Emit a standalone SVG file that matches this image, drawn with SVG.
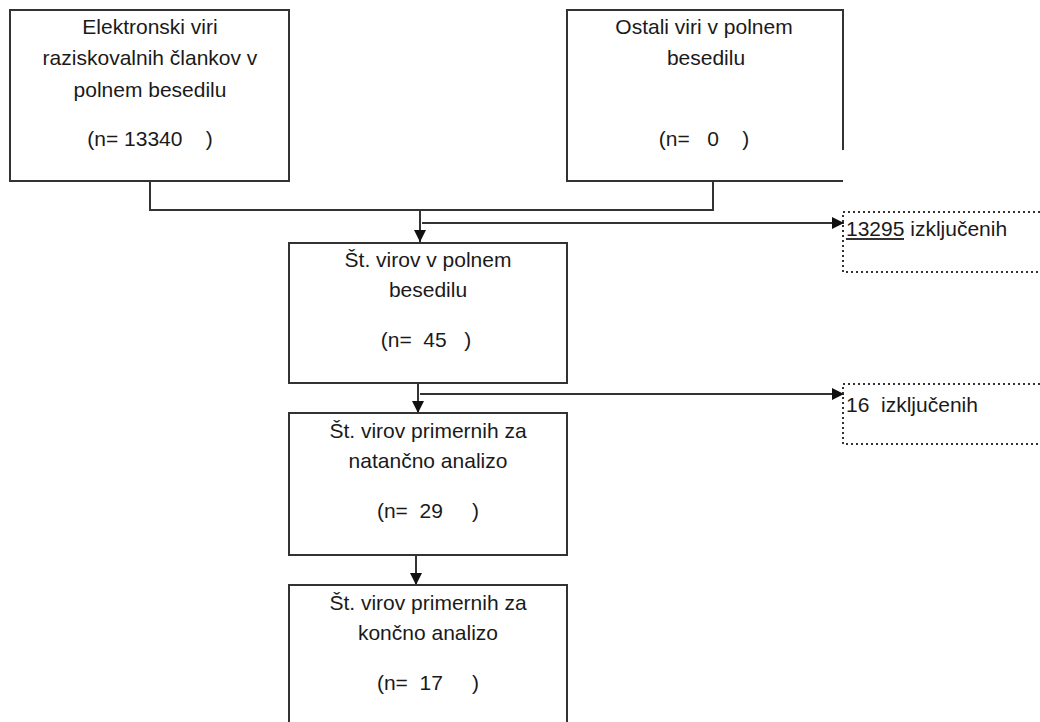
<svg xmlns="http://www.w3.org/2000/svg" width="1040" height="722" viewBox="0 0 1040 722">
  <defs>
    <marker id="arrow" viewBox="0 0 12 12" refX="12" refY="6" markerWidth="12" markerHeight="12" markerUnits="userSpaceOnUse" orient="auto">
      <path d="M0,0 L12,6 L0,12 Z" fill="#111"/>
    </marker>
    <style>
      .box { fill: #fff; stroke: #333; stroke-width: 2; }
      .dot { fill: none; stroke: #333; stroke-width: 2; stroke-dasharray: 2 3; }
      .line { fill: none; stroke: #333; stroke-width: 2; }
      .arr { fill: none; stroke: #333; stroke-width: 2; marker-end: url(#arrow); }
      text { font-family: "Liberation Sans", Arial, sans-serif; font-size: 21px; fill: #1a1a1a; white-space: pre; }
      .c { text-anchor: middle; }
    </style>
  </defs>
  <rect width="1040" height="722" fill="#fff"/>

  <g id="connectors">
    <polyline class="line" points="150,181 150,210 713,210 713,182"/>
    <line class="arr" x1="420" y1="210" x2="420" y2="242"/>
    <line class="arr" x1="422" y1="223" x2="844" y2="223"/>
    <line class="arr" x1="418" y1="383" x2="418" y2="413"/>
    <line class="arr" x1="420" y1="394" x2="844" y2="394"/>
    <line class="arr" x1="416" y1="555" x2="416" y2="585"/>
  </g>

  <g id="n-elektronski">
    <rect class="box" x="10" y="10" width="279" height="171"/>
    <text class="c" x="150" y="34">Elektronski viri</text>
    <text class="c" x="150" y="65">raziskovalnih člankov v</text>
    <text class="c" x="150" y="97">polnem besedilu</text>
    <text class="c" x="150" y="146">(n= 13340    )</text>
  </g>

  <g id="n-ostali">
    <path class="line" d="M843,150 L843,10 L567,10 L567,181 L843,181"/>
    <text class="c" x="704" y="34">Ostali viri v polnem</text>
    <text class="c" x="706" y="65">besedilu</text>
    <text class="c" x="704" y="146">(n=   0    )</text>
  </g>

  <g id="n-izkljuceni-1">
    <rect class="dot" x="843" y="212" width="210" height="60"/>
    <text x="846" y="236">13295 izključenih</text>
    <line class="line" x1="846" y1="239" x2="904" y2="239" stroke-width="1.4"/>
  </g>

  <g id="n-polno-besedilo">
    <rect class="box" x="289" y="243" width="278" height="140"/>
    <text class="c" x="428" y="267">Št. virov v polnem</text>
    <text class="c" x="428" y="297">besedilu</text>
    <text class="c" x="426" y="347">(n=  45   )</text>
  </g>

  <g id="n-izkljuceni-2">
    <rect class="dot" x="843" y="384" width="210" height="60"/>
    <text x="846" y="412">16  izključenih</text>
  </g>

  <g id="n-natancna">
    <rect class="box" x="289" y="413" width="278" height="142"/>
    <text class="c" x="428" y="438">Št. virov primernih za</text>
    <text class="c" x="428" y="468">natančno analizo</text>
    <text class="c" x="428" y="518">(n=  29     )</text>
  </g>

  <g id="n-koncna">
    <rect class="box" x="289" y="585" width="278" height="150"/>
    <text class="c" x="428" y="610">Št. virov primernih za</text>
    <text class="c" x="428" y="640">končno analizo</text>
    <text class="c" x="428" y="690">(n=  17     )</text>
  </g>
</svg>
